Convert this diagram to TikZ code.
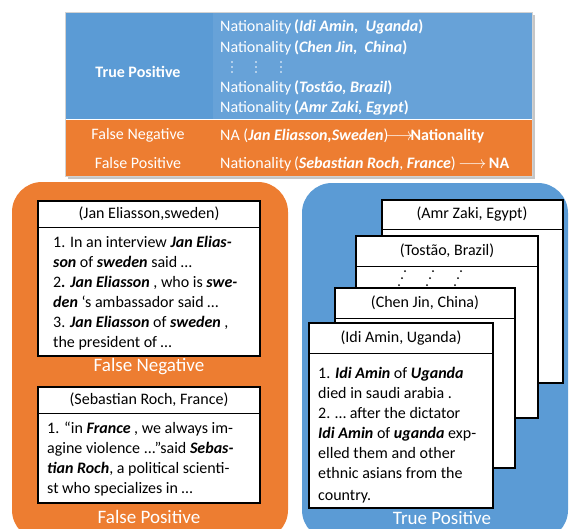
\documentclass[tikz,border=0pt]{standalone}
\usepackage{fontspec}
\setmainfont{Carlito}
\usetikzlibrary{positioning}
\definecolor{tpblue}{HTML}{5B9BD5}
\definecolor{fnorange}{HTML}{ED7D31}
\newcommand{\bi}[1]{\textbf{\textit{#1}}}
\tikzstyle{card} = [draw, line width=1.6pt, fill=white]
\tikzstyle{tabrow} = [anchor=base west, inner sep=0, text=white, font=\fontsize{16}{20}\selectfont]
\tikzstyle{cardhead} = [inner sep=0, font=\fontsize{16}{20}\selectfont]
\tikzstyle{cardbody} = [anchor=base west, inner sep=0, align=left, font=\fontsize{16}{20}\selectfont]
\tikzstyle{grouplabel} = [inner sep=0, text=white, font=\fontsize{19}{22}\selectfont]

\begin{document}
\begin{tikzpicture}[x=1pt,y=-1pt]
	\useasboundingbox (0,0) rectangle (570,528);
	% result table
	\fill[gray!45] (68,15) rectangle (535,179);
	\fill[tpblue] (65,12) rectangle (532,119.5);
	\fill[tpblue!93!white] (213,12) rectangle (532,119.5);
	\fill[fnorange] (65,119.5) rectangle (532,176);
	\draw[white, line width=1pt] (65,119.5) -- (532,119.5);
	\draw[gray!35] (65,12) rectangle (532,176);
	\node[tabrow, anchor=center] (tp) at (138,72) {\textbf{True Positive}};
	\node[tabrow, anchor=center] (fn) at (138,135) {False Negative};
	\node[tabrow, anchor=center] (fp) at (138,163) {False Positive};
	\node[tabrow] (tp1) at (220,31) {Nationality\,\textbf{(\bi{Idi Amin,\ \ Uganda})}};
	\node[tabrow] (tp2) at (220,52) {Nationality\,\textbf{(\bi{Chen Jin,\ \ China})}};
	\foreach \x in {232,256,281}
		\fill[white] (\x,62) circle (0.9pt) (\x,67) circle (0.9pt) (\x,72) circle (0.9pt);
	\node[tabrow] (tp3) at (220,92) {Nationality\,\textbf{(\bi{Tostão, Brazil})}};
	\node[tabrow] (tp4) at (220,112) {Nationality\,\textbf{(\bi{Amr Zaki, Egypt})}};
	\node[tabrow] (fn1) at (220,140) {NA (\bi{Jan Eliasson,Sweden})$\!\longrightarrow\!$\textbf{Nationality}};
	\node[tabrow] (fp1) at (220,168) {Nationality\,(\bi{Sebastian Roch}, \bi{France})\,$\longrightarrow$\,\textbf{NA}};

	% false cases
	\fill[fnorange, rounded corners=30pt] (12,182) rectangle (288,540);
	\draw[card] (38,201) rectangle (260,356);
	\draw[line width=0.8pt] (38,227) -- (260,227);
	\node[cardhead] (jehead) at (149,214) {(Jan Eliasson,sweden)};
	\node[cardbody] (jetext) at (53,347) {1. In an interview \bi{Jan Elias-}\\
		\bi{son} of \bi{sweden} said …\\
		2\bi{. Jan Eliasson} , who is \bi{swe-}\\
		\bi{den} ‘s ambassador said …\\
		3. \bi{Jan Eliasson} of \bi{sweden} ,\\
		the president of …};
	\node[grouplabel] (fnlabel) at (149,367) {False Negative};
	\draw[card] (38,387) rectangle (260,503);
	\draw[line width=0.8pt] (38,413) -- (260,413);
	\node[cardhead] (srhead) at (149,400) {(Sebastian Roch, France)};
	\node[cardbody] (srtext) at (47,493) {1. “in \bi{France} , we always im-\\
		agine violence ...”said \bi{Sebas-}\\
		\bi{tian Roch}, a political scienti-\\
		st who specializes in …};
	\node[grouplabel] (fplabel) at (149,517) {False Positive};

	% true cases
	\fill[tpblue, rounded corners=30pt] (302,183) rectangle (568,540);
	\draw[card] (382,200) rectangle (563,383);
	\draw[line width=0.8pt] (382,229) -- (563,229);
	\node[cardhead] (azhead) at (472,214) {(Amr Zaki, Egypt)};
	\draw[card] (356,236) rectangle (538,418);
	\draw[line width=0.8pt] (356,266) -- (538,266);
	\node[cardhead] (tbhead) at (447,251) {(Tostão, Brazil)};
	\foreach \x in {402,430,458}
		\fill (\x+3,271) circle (1pt) (\x,278) circle (1pt) (\x-3,285) circle (1pt);
	\draw[card] (335,288) rectangle (515,468);
	\draw[line width=0.8pt] (335,318) -- (515,318);
	\node[cardhead] (cjhead) at (425,303) {(Chen Jin, China)};
	\draw[card] (309,323) rectangle (493,508);
	\draw[line width=0.8pt] (309,353) -- (493,353);
	\node[cardhead] (iahead) at (401,338) {(Idi Amin, Uganda)};
	\node[cardbody] (iatext) at (318,500) {1. \bi{Idi Amin} of \bi{Uganda}\\
		died in saudi arabia .\\
		2. … after the dictator\\
		\bi{Idi Amin} of \bi{uganda} exp-\\
		elled them and other\\
		ethnic asians from the\\[2pt]
		country.};
	\node[grouplabel] (tplabel) at (442,518) {True Positive};
\end{tikzpicture}
\end{document}
